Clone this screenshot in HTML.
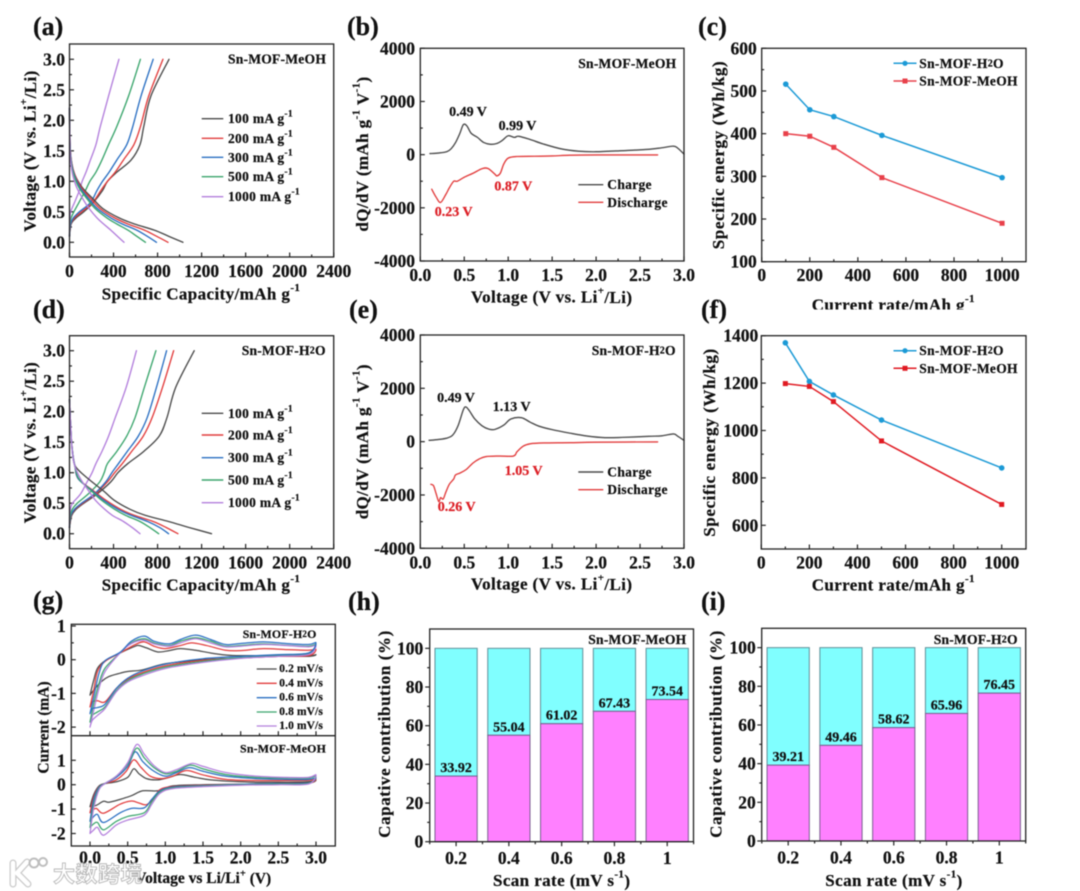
<!DOCTYPE html>
<html lang="en">
<head>
<meta charset="utf-8">
<title>Sn-MOF electrochemical performance</title>
<style>
html,body{margin:0;padding:0;background:#fff;}
body{width:1080px;height:891px;overflow:hidden;}
svg{display:block;filter:blur(0.45px);}
text{font-family:"Liberation Serif","Noto Sans CJK SC",serif;font-weight:bold;fill:#111;stroke:#111;stroke-width:.22px;dominant-baseline:central;}
.t{font-size:17.5px;}
.title{font-size:17px;text-anchor:middle;letter-spacing:.4px;}
.wide{letter-spacing:.6px;}
.gt{font-size:15.5px;text-anchor:middle;}
.lab{font-size:26px;dominant-baseline:alphabetic;}
.leg{font-size:13.5px;letter-spacing:.3px;}
.sm{font-size:13.6px;letter-spacing:.2px;}
.smg{font-size:11.9px;letter-spacing:.2px;}
.lg{font-size:11.5px;letter-spacing:.1px;}
.ann{font-size:14px;text-anchor:middle;}
.red{fill:#dc1f26;stroke:#dc1f26;}
.frame{fill:none;stroke:#222;stroke-width:1.3;}
</style>
</head>
<body>
<svg id="fig" xmlns="http://www.w3.org/2000/svg" width="1080" height="891" viewBox="0 0 1080 891">
<rect width="1080" height="891" fill="#fff"/>

<g id="static-text">
<text class="lab" x="33" y="35">(a)</text>
<text class="lab" x="347" y="35">(b)</text>
<text class="lab" x="698" y="35">(c)</text>
<text class="lab" x="33" y="318">(d)</text>
<text class="lab" x="349" y="318">(e)</text>
<text class="lab" x="701" y="318">(f)</text>
<text class="lab" x="33" y="609">(g)</text>
<text class="lab" x="348" y="610">(h)</text>
<text class="lab" x="701" y="610">(i)</text>

<!-- x-axis titles -->
<text class="title" x="201" y="294">Specific Capacity/mAh g<tspan font-size="11" dy="-6">-1</tspan></text>
<text class="title" x="551.7" y="297">Voltage (V vs. Li<tspan font-size="11" dy="-6">+</tspan><tspan dy="6">/Li)</tspan></text>
<text class="title" x="893.3" y="305">Current rate/mAh g<tspan font-size="11" dy="-6">-1</tspan></text>
<rect x="770" y="309.5" width="250" height="8" fill="#fff"/>
<text class="title" x="201" y="585">Specific Capacity/mAh g<tspan font-size="11" dy="-6">-1</tspan></text>
<text class="title" x="551.7" y="584">Voltage (V vs. Li<tspan font-size="11" dy="-6">+</tspan><tspan dy="6">/Li)</tspan></text>
<text class="title" x="893.3" y="585">Current rate/mAh g<tspan font-size="11" dy="-6">-1</tspan></text>
<text class="gt" x="203.3" y="878.3">Voltage vs Li/Li<tspan font-size="10.5" dy="-5">+</tspan><tspan dy="5"> (V)</tspan></text>
<text class="title" x="561.7" y="880.7">Scan rate (mV s<tspan font-size="11" dy="-6">-1</tspan><tspan dy="6">)</tspan></text>
<text class="title" x="894" y="880.7">Scan rate (mV s<tspan font-size="11" dy="-6">-1</tspan><tspan dy="6">)</tspan></text>

<!-- y-axis titles -->
<text class="title" transform="translate(30 151) rotate(-90)">Voltage (V vs. Li<tspan font-size="11" dy="-6">+</tspan><tspan dy="6">/Li)</tspan></text>
<text class="title" transform="translate(362.7 154) rotate(-90)">dQ/dV (mAh g<tspan font-size="11" dy="-6">-1</tspan><tspan dy="6"> V</tspan><tspan font-size="11" dy="-6">-1</tspan><tspan dy="6">)</tspan></text>
<text class="title wide" transform="translate(718.3 155) rotate(-90)">Specific energy (Wh/kg)</text>
<text class="title" transform="translate(30 442.5) rotate(-90)">Voltage (V vs. Li<tspan font-size="11" dy="-6">+</tspan><tspan dy="6">/Li)</tspan></text>
<text class="title" transform="translate(362.7 441.7) rotate(-90)">dQ/dV (mAh g<tspan font-size="11" dy="-6">-1</tspan><tspan dy="6"> V</tspan><tspan font-size="11" dy="-6">-1</tspan><tspan dy="6">)</tspan></text>
<text class="title wide" transform="translate(709.3 442.5) rotate(-90)">Specific energy (Wh/kg)</text>
<text class="gt" transform="translate(44 727.5) rotate(-90)">Current (mA)</text>
<text class="title wide" transform="translate(384.3 734) rotate(-90)">Capative contribution (%)</text>
<text class="title wide" transform="translate(716 734) rotate(-90)">Capative contribution (%)</text>

<!-- sample labels -->
<text class="sm" x="228" y="59">Sn-MOF-MeOH</text>
<text class="sm" x="578.3" y="63.3">Sn-MOF-MeOH</text>
<text class="sm" x="241.7" y="350.7">Sn-MOF-H<tspan font-size="10">2</tspan>O</text>
<text class="sm" x="591.7" y="350.7">Sn-MOF-H<tspan font-size="10">2</tspan>O</text>
<text class="smg" x="242.7" y="634">Sn-MOF-H<tspan font-size="9">2</tspan>O</text>
<text class="smg" x="240" y="748.3">Sn-MOF-MeOH</text>
<text class="sm" x="588.3" y="639.3">Sn-MOF-MeOH</text>
<text class="sm" x="933.7" y="639.3">Sn-MOF-H<tspan font-size="10">2</tspan>O</text>

<!-- peak annotations -->
<text class="ann" x="468" y="112.7">0.49 V</text>
<text class="ann" x="517.5" y="126.7">0.99 V</text>
<text class="ann red" x="513.3" y="187">0.87 V</text>
<text class="ann red" x="453.7" y="212.7">0.23 V</text>
<text class="ann" x="456" y="398.3">0.49 V</text>
<text class="ann" x="511.7" y="407.7">1.13 V</text>
<text class="ann red" x="523.7" y="471.3">1.05 V</text>
<text class="ann red" x="456.7" y="507.3">0.26 V</text>

<!-- legend text -->
<text class="leg" x="228" y="118.7">100 mA g<tspan font-size="9.5" dy="-4">-1</tspan></text>
<text class="leg" x="228" y="138.3">200 mA g<tspan font-size="9.5" dy="-4">-1</tspan></text>
<text class="leg" x="228" y="157.3">300 mA g<tspan font-size="9.5" dy="-4">-1</tspan></text>
<text class="leg" x="228" y="176.7">500 mA g<tspan font-size="9.5" dy="-4">-1</tspan></text>
<text class="leg" x="228" y="196.7">1000 mA g<tspan font-size="9.5" dy="-4">-1</tspan></text>
<text class="leg" x="228" y="413.3">100 mA g<tspan font-size="9.5" dy="-4">-1</tspan></text>
<text class="leg" x="228" y="435">200 mA g<tspan font-size="9.5" dy="-4">-1</tspan></text>
<text class="leg" x="228" y="457.7">300 mA g<tspan font-size="9.5" dy="-4">-1</tspan></text>
<text class="leg" x="228" y="480">500 mA g<tspan font-size="9.5" dy="-4">-1</tspan></text>
<text class="leg" x="228" y="502.7">1000 mA g<tspan font-size="9.5" dy="-4">-1</tspan></text>
<text class="leg" x="607.3" y="184.7">Charge</text>
<text class="leg" x="607.3" y="202.3">Discharge</text>
<text class="leg" x="607.3" y="472">Charge</text>
<text class="leg" x="607.3" y="489.7">Discharge</text>
<text class="leg" x="919.3" y="63.3">Sn-MOF-H<tspan font-size="10">2</tspan>O</text>
<text class="leg" x="919.3" y="81">Sn-MOF-MeOH</text>
<text class="leg" x="919.3" y="350.7">Sn-MOF-H<tspan font-size="10">2</tspan>O</text>
<text class="leg" x="919.3" y="368.3">Sn-MOF-MeOH</text>
<text class="lg" x="279.3" y="669">0.2 mV/s</text>
<text class="lg" x="279.3" y="683.3">0.4 mV/s</text>
<text class="lg" x="279.3" y="697.7">0.6 mV/s</text>
<text class="lg" x="279.3" y="712">0.8 mV/s</text>
<text class="lg" x="279.3" y="726">1.0 mV/s</text>
</g>

<g id="marks"></g>

<!-- frames -->
<rect class="frame" x="69.5" y="44" width="264.2" height="213"/>
<rect class="frame" x="420.3" y="48.3" width="263.7" height="212.7"/>
<rect class="frame" x="761.7" y="48.3" width="264.3" height="213.4"/>
<rect class="frame" x="69.5" y="335.7" width="264.2" height="213"/>
<rect class="frame" x="420.3" y="335" width="263.7" height="213.3"/>
<rect class="frame" x="761.3" y="335.7" width="264.7" height="213.3"/>
<rect class="frame" x="71.3" y="624.3" width="264" height="221.7"/>
<line class="frame" x1="71.3" x2="335.3" y1="735.7" y2="735.7"/>
<rect class="frame" x="429.7" y="629" width="263.8" height="212.7"/>
<rect class="frame" x="761.7" y="628.3" width="264" height="212.7"/>

<!-- watermark -->
<g opacity="0.95">
<path d="M13 863 V884 M27 862 L17 873 L28 884" fill="none" stroke="#c8c8c8" stroke-width="7" stroke-linecap="round"/>
<path d="M13 863 V884 M27 862 L17 873 L28 884" fill="none" stroke="#fff" stroke-width="4.5" stroke-linecap="round"/>
<circle cx="34" cy="863" r="4.5" fill="#fff" stroke="#bbb" stroke-width="2"/>
<circle cx="43" cy="862" r="4" fill="#fff" stroke="#bbb" stroke-width="2"/>
<text x="53" y="873" font-size="22" letter-spacing="0.5" style="font-family:'Noto Sans CJK SC',sans-serif;font-weight:bold;fill:rgba(255,255,255,.92);stroke:#b5b5b5;stroke-width:.9px;">大数跨境</text>
</g>
</svg>

<script>
/* ---------- data: capacity curves ---------- */
const chargeVoltage = [0.1,0.3,0.4,0.5,0.65,0.85,1.0,1.15,1.35,1.6,1.9,2.4,3.0];
const dischargeVoltage = [2.2,1.6,1.3,1.1,0.9,0.7,0.55,0.4,0.3,0.2,0.1,0];
const rateColors = ['#4a4a4a','#e23c3c','#2a6fc2','#3aa56c','#b37fdc'];
const rateNames = ['100','200','300','500','1000'];

const aCharge100 = [0,15,60,130,215,300,345,430,560,640,675,740,904];
const aCharge200 = [0,12,45,110,210,285,345,415,490,585,645,720,849];
const aCharge300 = [0,10,35,90,190,250,300,360,430,520,575,650,760];
const aCharge500 = [0,5,15,40,85,145,185,240,295,355,430,537,644];
const aCharge1000 = [0,2,5,10,45,90,115,150,190,240,280,355,449];
const aDischarge100 = [0,5,20,50,115,220,305,450,590,770,900,1030];
const aDischarge200 = [0,5,20,50,105,200,280,410,530,680,790,895];
const aDischarge300 = [0,5,18,45,95,180,255,375,480,610,705,790];
const aDischarge500 = [0,4,15,40,85,165,235,340,430,530,610,690];
const aDischarge1000 = [0,4,12,30,65,125,180,250,310,375,435,495];

const dCharge100 = [0,20,60,130,250,375,440,530,675,815,885,965,1133];
const dCharge200 = [0,15,50,120,235,345,410,480,565,670,750,845,946];
const dCharge300 = [0,12,45,110,225,330,385,445,525,625,705,790,882];
const dCharge500 = [0,8,25,70,170,275,315,345,430,520,595,680,785];
const dCharge1000 = [0,2,8,27,100,160,205,240,295,355,415,515,608];
const dDischarge100 = [0,15,30,55,170,310,405,550,690,900,1090,1290];
const dDischarge200 = [0,15,30,50,80,220,330,465,590,760,880,985];
const dDischarge300 = [0,15,30,50,80,210,310,440,560,710,820,900];
const dDischarge500 = [0,15,28,50,85,200,290,410,510,640,730,810];
const dDischarge1000 = [0,15,28,50,100,175,235,320,390,490,570,640];

/* ---------- data: dQ/dV curves ([V, dQ/dV]) ---------- */
const bCharge = [[0.11,40],[0.2,60],[0.3,110],[0.35,220],[0.4,450],[0.45,800],[0.49,1130],[0.53,1080],[0.58,800],[0.65,650],[0.72,460],[0.8,390],[0.87,420],[0.93,530],[1.0,710],[1.07,650],[1.12,690],[1.25,570],[1.4,400],[1.6,220],[1.8,130],[2.0,110],[2.3,150],[2.6,200],[2.75,260],[2.88,320],[2.93,240],[3.0,20]];
const bDischarge = [[0.13,-1300],[0.18,-1600],[0.23,-1800],[0.29,-1500],[0.33,-1250],[0.38,-1000],[0.42,-1000],[0.5,-850],[0.6,-700],[0.7,-530],[0.77,-520],[0.85,-740],[0.87,-800],[0.91,-700],[0.95,-350],[1.0,-130],[1.1,-70],[1.3,-60],[1.5,-50],[1.7,-20],[2.0,-10],[2.7,-10]];
const eCharge = [[0.1,50],[0.2,80],[0.3,130],[0.37,250],[0.43,600],[0.49,1200],[0.52,1300],[0.56,1150],[0.62,850],[0.7,600],[0.78,470],[0.85,460],[0.95,620],[1.03,850],[1.15,900],[1.25,730],[1.35,580],[1.5,450],[1.7,320],[1.9,210],[2.1,150],[2.3,160],[2.6,200],[2.75,220],[2.88,290],[2.93,200],[3.0,50]];
const eDischarge = [[0.12,-1600],[0.15,-1650],[0.18,-1950],[0.21,-2250],[0.23,-2100],[0.26,-2150],[0.29,-1900],[0.33,-1600],[0.38,-1400],[0.4,-1250],[0.45,-1180],[0.52,-1050],[0.6,-800],[0.67,-650],[0.75,-560],[0.9,-540],[1.06,-540],[1.1,-380],[1.17,-170],[1.25,-80],[1.4,-50],[1.7,-40],[2.0,-20],[2.7,-10]];

/* ---------- data: specific energy ---------- */
const energyRates = [100,200,300,500,1000];
const cH2O = [516,456,440,396,297];
const cMeOH = [400,394,368,297,190];
const fH2O = [1370,1207,1150,1044,842];
const fMeOH = [1198,1186,1122,956,688];

/* ---------- data: CV loops ([V, I]), anodic then cathodic ---------- */
const gTop02 = [[0,-1.05],[.05,-.6],[.1,-.25],[.2,-.03],[.4,.2],[.6,.4],[.65,.42],[.75,.35],[.9,.23],[1.05,.27],[1.2,.33],[1.4,.28],[1.6,.2],[1.8,.14],[2,.12],[2.5,.12],[2.9,.12],[3,.15],[2.9,.1],[2.5,.1],[2,.05],[1.5,0],[1,-.12],[.7,-.3],[.5,-.35],[.4,-.4],[.25,-.5],[.15,-.65],[.05,-.9],[0,-1.05]];
const gTop04 = [[0,-1.4],[.05,-.9],[.1,-.35],[.2,-.05],[.4,.2],[.6,.45],[.72,.53],[.85,.4],[1,.33],[1.2,.42],[1.35,.5],[1.55,.42],[1.8,.28],[2,.27],[2.3,.33],[2.6,.3],[2.9,.28],[3,.3],[2.9,.12],[2.5,.1],[2,.05],[1.5,-.02],[1,-.18],[.7,-.38],[.5,-.58],[.35,-.85],[.2,-1.25],[.1,-1.22],[.03,-1.25],[0,-1.4]];
const gTop06 = [[0,-1.6],[.05,-1.1],[.12,-.4],[.2,-.03],[.4,.22],[.55,.55],[.72,.7],[.85,.55],[1.05,.47],[1.2,.6],[1.4,.73],[1.6,.6],[1.8,.45],[2,.48],[2.3,.53],[2.6,.48],[2.9,.45],[3,.5],[2.9,.2],[2.5,.15],[2,.1],[1.5,.03],[1,-.13],[.7,-.33],[.5,-.55],[.35,-.85],[.2,-1.32],[.1,-1.42],[.03,-1.45],[0,-1.6]];
const gTop08 = [[0,-1.85],[.05,-1.3],[.12,-.7],[.2,-.25],[.4,.2],[.55,.5],[.72,.62],[.85,.5],[1.05,.42],[1.2,.55],[1.4,.65],[1.6,.55],[1.8,.4],[2,.42],[2.3,.47],[2.6,.43],[2.9,.4],[3,.45],[2.9,.18],[2.5,.12],[2,.06],[1.5,-.05],[1,-.22],[.7,-.42],[.5,-.62],[.35,-.92],[.2,-1.4],[.1,-1.55],[.03,-1.65],[0,-1.85]];
const gTop10 = [[0,-2],[.05,-1.5],[.12,-.85],[.2,-.35],[.4,.2],[.55,.48],[.72,.58],[.85,.47],[1.05,.4],[1.2,.5],[1.4,.62],[1.6,.5],[1.8,.38],[2,.4],[2.3,.45],[2.6,.42],[2.9,.38],[3,.42],[2.9,.15],[2.5,.1],[2,.04],[1.5,-.08],[1,-.26],[.7,-.47],[.5,-.66],[.35,-.95],[.2,-1.45],[.1,-1.65],[.03,-1.8],[0,-2]];
const gBot02 = [[0,-.9],[.05,-.4],[.12,-.05],[.2,.05],[.35,.12],[.5,.3],[.58,.65],[.65,.45],[.75,.25],[.9,.2],[1.05,.3],[1.2,.42],[1.4,.3],[1.6,.2],[2,.12],[2.5,.1],[2.9,.12],[3,.18],[2.9,.07],[2.5,.05],[2,.02],[1.5,0],[1.1,-.05],[.9,-.25],[.7,-.25],[.55,-.45],[.4,-.6],[.25,-.72],[.18,-.68],[.08,-.85],[0,-.9]];
const gBot04 = [[0,-1.15],[.05,-.5],[.12,-.08],[.2,.05],[.35,.2],[.48,.55],[.58,1.02],[.68,.7],[.8,.35],[.95,.25],[1.1,.35],[1.28,.58],[1.5,.4],[1.8,.22],[2.2,.17],[2.6,.17],[2.9,.18],[3,.22],[2.9,.07],[2.5,.05],[2,.02],[1.5,-.02],[1.1,-.08],[.93,-.2],[.85,-.55],[.75,-.82],[.65,-.75],[.55,-.67],[.4,-.8],[.18,-1.17],[.08,-.97],[0,-1.15]];
const gBot06 = [[0,-1.5],[.05,-.6],[.12,-.1],[.2,.05],[.35,.3],[.5,.75],[.6,1.35],[.7,.95],[.85,.55],[1,.35],[1.15,.5],[1.32,.7],[1.5,.55],[1.8,.35],[2.2,.25],[2.6,.22],[2.9,.22],[3,.28],[2.9,.07],[2.5,.05],[2,.02],[1.5,-.04],[1.1,-.1],[.93,-.25],[.82,-.6],[.72,-.95],[.55,-.97],[.4,-1.15],[.18,-1.55],[.1,-1.22],[.05,-1.3],[0,-1.5]];
const gBot08 = [[0,-1.75],[.05,-.8],[.12,-.15],[.2,.05],[.35,.35],[.5,.85],[.62,1.5],[.72,1.1],[.85,.7],[1,.45],[1.15,.55],[1.33,.8],[1.5,.65],[1.8,.42],[2.2,.3],[2.6,.27],[2.9,.27],[3,.35],[2.9,.05],[2.5,.03],[2,0],[1.5,-.06],[1.1,-.13],[.93,-.3],[.82,-.7],[.72,-1.15],[.5,-1.3],[.35,-1.5],[.18,-1.85],[.1,-1.55],[.05,-1.6],[0,-1.75]];
const gBot10 = [[0,-2],[.05,-.95],[.12,-.2],[.2,.05],[.35,.35],[.5,.9],[.62,1.65],[.72,1.25],[.85,.78],[1,.5],[1.15,.62],[1.35,.87],[1.5,.75],[1.8,.5],[2.2,.35],[2.6,.3],[2.9,.3],[3,.4],[2.9,.03],[2.5,0],[2,-.02],[1.5,-.08],[1.1,-.16],[.93,-.35],[.82,-.8],[.72,-1.25],[.5,-1.45],[.35,-1.65],[.18,-2.07],[.1,-1.75],[.05,-1.85],[0,-2]];

/* ---------- data: capacitive contribution ---------- */
const scanRates = ['0.2','0.4','0.6','0.8','1'];
const hValues = [33.92,55.04,61.02,67.43,73.54];
const iValues = [39.21,49.46,58.62,65.96,76.45];

/* ---------- data: ticks ---------- */
const capTicks = [0,400,800,1200,1600,2000,2400];
const capMinor = [200,600,1000,1400,1800,2200];
const voltTicks = [0,0.5,1,1.5,2,2.5,3];
const voltMinor = [0.25,0.75,1.25,1.75,2.25,2.75];
const dqdvTicks = [-4000,-2000,0,2000,4000];
const dqdvMinor = [-3000,-1000,1000,3000];
const rateTicks = [0,200,400,600,800,1000];
const rateMinor = [100,300,500,700,900];
const cEnergyTicks = [100,200,300,400,500,600];
const cEnergyMinor = [150,250,350,450,550];
const fEnergyTicks = [600,800,1000,1200,1400];
const fEnergyMinor = [700,900,1100,1300];
const currentTicks = [-2,-1,0,1];
const currentMinor = [-1.5,-0.5,0.5];
const percentTicks = [0,20,40,60,80,100];
const percentMinor = [10,30,50,70,90];
const barMinor = [0.5,1.5,2.5,3.5,4.5,5.5];

const NS = 'http://www.w3.org/2000/svg';
const root = document.getElementById('marks');

function linear(d0, d1, r0, r1) {
  return v => r0 + (v - d0) * (r1 - r0) / (d1 - d0);
}
function svgEl(tag, name, interact) {
  const el = document.createElementNS(NS, tag);
  
  
  root.appendChild(el);
  return el;
}
function smoothPath(pts) {
  let d = 'M' + pts[0][0].toFixed(2) + ' ' + pts[0][1].toFixed(2);
  for (let i = 0; i < pts.length - 1; i++) {
    const p0 = pts[Math.max(0, i - 1)], p1 = pts[i], p2 = pts[i + 1], p3 = pts[Math.min(pts.length - 1, i + 2)];
    const k = 1 / 6;
    const c1x = p1[0] + (p2[0] - p0[0]) * k, c1y = p1[1] + (p2[1] - p0[1]) * k;
    const c2x = p2[0] - (p3[0] - p1[0]) * k, c2y = p2[1] - (p3[1] - p1[1]) * k;
    d += 'C' + [c1x, c1y, c2x, c2y, p2[0], p2[1]].map(n => n.toFixed(2)).join(' ');
  }
  return d;
}
function drawCurve(name, pts, color, width) {
  const el = svgEl('path', name);
  el.setAttribute('d', smoothPath(pts));
  el.setAttribute('fill', 'none');
  el.setAttribute('stroke', color);
  el.setAttribute('stroke-width', width || 1.35);
  el.setAttribute('stroke-linejoin', 'round');
  el.setAttribute('stroke-linecap', 'round');
  return el;
}
function drawLine(name, x1, y1, x2, y2, color, width) {
  const el = svgEl('line', name);
  el.setAttribute('x1', x1);
  el.setAttribute('y1', y1);
  el.setAttribute('x2', x2);
  el.setAttribute('y2', y2);
  el.setAttribute('stroke', color);
  el.setAttribute('stroke-width', width || 1.2);
  return el;
}
function drawLabel(name, str, x, y, anchor, cls) {
  const el = svgEl('text', name);
  el.setAttribute('x', x);
  el.setAttribute('y', y);
  el.setAttribute('text-anchor', anchor);
  el.setAttribute('class', cls || 't');
  el.textContent = str;
  return el;
}
/* dir: -1 = inward (up/right into the plot), +1 = outward */
function xAxis(id, sx, yPos, ticks, minor, labelY, fmt, dir) {
  ticks.forEach(v => {
    drawLine(id + '-x-tick', sx(v), yPos, sx(v), yPos + dir * 4.5, '#222');
    if (labelY !== null) drawLabel(id + '-x-tick-label', fmt(v), sx(v), labelY, 'middle');
  });
  minor.forEach(v => drawLine(id + '-x-minor-tick', sx(v), yPos, sx(v), yPos + dir * 2.5, '#222'));
}
function yAxis(id, sy, xPos, ticks, minor, labelX, fmt, dir) {
  ticks.forEach(v => {
    drawLine(id + '-y-tick', xPos, sy(v), xPos - dir * 4.5, sy(v), '#222');
    drawLabel(id + '-y-tick-label', fmt(v), labelX, sy(v), 'end');
  });
  minor.forEach(v => drawLine(id + '-y-minor-tick', xPos, sy(v), xPos - dir * 2.5, sy(v), '#222'));
}
const f0 = v => String(v);
const f1 = v => v.toFixed(1);

/* ---------- panels a, d ---------- */
function capacityPanel(id, sy, charges, discharges, legendYs) {
  const sx = linear(0, 2400, 69.5, 333.7);
  const frameBottom = sy(0) + 14.7;
  xAxis(id, sx, frameBottom, capTicks, capMinor, frameBottom + 14, f0, -1);
  yAxis(id, sy, 69.5, voltTicks, voltMinor, 65, f1, -1);
  charges.forEach((c, i) => {
    drawCurve(id + '-charge-' + rateNames[i], c.map((q, j) => [sx(q), sy(chargeVoltage[j])]), rateColors[i]);
  });
  discharges.forEach((c, i) => {
    drawCurve(id + '-discharge-' + rateNames[i], c.map((q, j) => [sx(q), sy(dischargeVoltage[j])]), rateColors[i]);
  });
  legendYs.forEach((ly, i) => drawLine(id + '-legend-line-' + rateNames[i], 201.7, ly, 223.3, ly, rateColors[i], 1.4));
}
capacityPanel('a', linear(0, 3, 242.3, 59.3),
  [aCharge100, aCharge200, aCharge300, aCharge500, aCharge1000],
  [aDischarge100, aDischarge200, aDischarge300, aDischarge500, aDischarge1000],
  [118.7, 138.3, 157.3, 176.7, 196.7]);
capacityPanel('d', linear(0, 3, 533.7, 350.7),
  [dCharge100, dCharge200, dCharge300, dCharge500, dCharge1000],
  [dDischarge100, dDischarge200, dDischarge300, dDischarge500, dDischarge1000],
  [413.3, 435, 457.7, 480, 502.7]);

/* ---------- panels b, e ---------- */
function dqdvPanel(id, top, bottom, charge, discharge, legY1, legY2) {
  const sx = linear(0, 3, 420.3, 684);
  const sy = linear(-4000, 4000, bottom, top);
  xAxis(id, sx, bottom, voltTicks, voltMinor, bottom + 14, f1, -1);
  yAxis(id, sy, 420.3, dqdvTicks, dqdvMinor, 415, f0, -1);
  drawCurve(id + '-charge-curve', charge.map(p => [sx(p[0]), sy(p[1])]), '#4a4a4a');
  drawCurve(id + '-discharge-curve', discharge.map(p => [sx(p[0]), sy(p[1])]), '#e23c3c');
  drawLine(id + '-legend-line-charge', 578.3, legY1, 603.3, legY1, '#4a4a4a', 1.4);
  drawLine(id + '-legend-line-discharge', 578.3, legY2, 603.3, legY2, '#e23c3c', 1.4);
}
dqdvPanel('b', 48.3, 261, bCharge, bDischarge, 184.7, 202.3);
dqdvPanel('e', 335, 548.3, eCharge, eDischarge, 472, 489.7);

/* ---------- panels c, f ---------- */
function energyPanel(id, left, top, bottom, sy, yTicks, yMinor, labelX, h2o, meoh, red, legY1, legY2) {
  const sx = linear(0, 1000, left, left + 240.4);
  xAxis(id, sx, bottom, rateTicks, rateMinor, bottom + 13.5, f0, -1);
  yAxis(id, sy, left, yTicks, yMinor, labelX, f0, -1);
  const blue = '#1c9ad6';
  const poly = (name, vals, color) => {
    const el = svgEl('polyline', name);
    el.setAttribute('points', vals.map((v, i) => sx(energyRates[i]).toFixed(2) + ',' + sy(v).toFixed(2)).join(' '));
    el.setAttribute('fill', 'none');
    el.setAttribute('stroke', color);
    el.setAttribute('stroke-width', 1.5);
  };
  poly(id + '-h2o-line', h2o, blue);
  poly(id + '-meoh-line', meoh, red);
  h2o.forEach((v, i) => {
    const m = svgEl('circle', id + '-h2o-point');
    m.setAttribute('cx', sx(energyRates[i]));
    m.setAttribute('cy', sy(v));
    m.setAttribute('r', 2.8);
    m.setAttribute('fill', blue);
  });
  meoh.forEach((v, i) => {
    const m = svgEl('rect', id + '-meoh-point');
    m.setAttribute('x', sx(energyRates[i]) - 2.5);
    m.setAttribute('y', sy(v) - 2.5);
    m.setAttribute('width', 5);
    m.setAttribute('height', 5);
    m.setAttribute('fill', red);
  });
  drawLine(id + '-legend-line-h2o', 893.5, legY1, 916.5, legY1, blue, 1.5);
  const lm1 = svgEl('circle', id + '-legend-marker-h2o');
  lm1.setAttribute('cx', 905);
  lm1.setAttribute('cy', legY1);
  lm1.setAttribute('r', 2.6);
  lm1.setAttribute('fill', blue);
  drawLine(id + '-legend-line-meoh', 893.5, legY2, 916.5, legY2, red, 1.5);
  const lm2 = svgEl('rect', id + '-legend-marker-meoh');
  lm2.setAttribute('x', 902.5);
  lm2.setAttribute('y', legY2 - 2.5);
  lm2.setAttribute('width', 5);
  lm2.setAttribute('height', 5);
  lm2.setAttribute('fill', red);
}
energyPanel('c', 761.7, 48.3, 261.7, linear(100, 600, 261.7, 48.3), cEnergyTicks, cEnergyMinor, 756.7, cH2O, cMeOH, '#e8404a', 63.3, 81);
energyPanel('f', 761.3, 335.7, 549, linear(600, 1400, 525.3, 335.7), fEnergyTicks, fEnergyMinor, 758.3, fH2O, fMeOH, '#e01a22', 350.7, 368.3);

/* ---------- panel g ---------- */
const gX = linear(0, 3, 90, 316);
const gTopY = linear(0, 1, 659.7, 626);
const gBotY = linear(0, 1, 784.7, 760.3);
const gColors = ['#4a4a4a', '#e23c3c', '#2a6fc2', '#3aa56c', '#b37fdc'];
const gRates = ['02', '04', '06', '08', '10'];
xAxis('g-top', gX, 735.7, voltTicks, voltMinor, null, f1, -1);
xAxis('g-bottom', gX, 846, voltTicks, voltMinor, 857.7, f1, -1);
yAxis('g-top', gTopY, 71.3, currentTicks, currentMinor, 65.7, f0, -1);
yAxis('g-bottom', gBotY, 71.3, currentTicks, currentMinor, 65.7, f0, -1);
[[gTop02, 0], [gTop04, 1], [gTop08, 3], [gTop10, 4], [gTop06, 2]].forEach(s => {
  drawCurve('g-top-loop-' + gRates[s[1]], s[0].map(p => [gX(p[0]), gTopY(p[1])]), gColors[s[1]], 1.25);
});
[[gBot02, 0], [gBot04, 1], [gBot06, 2], [gBot08, 3], [gBot10, 4]].forEach(s => {
  drawCurve('g-bottom-loop-' + gRates[s[1]], s[0].map(p => [gX(p[0]), gBotY(p[1])]), gColors[s[1]], 1.25);
});
[669, 683.3, 697.7, 712, 726].forEach((ly, i) => drawLine('g-legend-line-' + gRates[i], 256.7, ly, 276.7, ly, gColors[i], 1.3));

/* ---------- panels h, i ---------- */
function barPanel(id, left, bottom, top, values, labelX) {
  const sx = linear(0.5, 5.5, left, left + 263.9);
  const sy = linear(0, 110, bottom, top);
  xAxis(id, sx, bottom, [1, 2, 3, 4, 5], barMinor, bottom + 16.5, v => scanRates[v - 1], 1);
  yAxis(id, sy, left, percentTicks, percentMinor, labelX, f0, 1);
  const w = sx(1.8) - sx(1);
  values.forEach((v, i) => {
    const c = sx(i + 1);
    const cy = svgEl('rect', id + '-bar-rest-' + scanRates[i]);
    cy.setAttribute('x', c - w / 2);
    cy.setAttribute('y', sy(100));
    cy.setAttribute('width', w);
    cy.setAttribute('height', sy(v) - sy(100));
    cy.setAttribute('fill', '#80ffff');
    cy.setAttribute('stroke', '#5f8f98');
    cy.setAttribute('stroke-width', 1);
    const mg = svgEl('rect', id + '-bar-capacitive-' + scanRates[i]);
    mg.setAttribute('x', c - w / 2);
    mg.setAttribute('y', sy(v));
    mg.setAttribute('width', w);
    mg.setAttribute('height', sy(0) - sy(v));
    mg.setAttribute('fill', '#ff80ff');
    mg.setAttribute('stroke', '#7a5f90');
    mg.setAttribute('stroke-width', 1);
    drawLabel(id + '-bar-value-' + scanRates[i], v.toFixed(2), c, sy(v) - 7.5, 'middle', 'ann');
  });
}
barPanel('h', 429.7, 841.7, 629, hValues, 423.3);
barPanel('i', 761.8, 841, 628.3, iValues, 755.7);
</script>
</body>
</html>
